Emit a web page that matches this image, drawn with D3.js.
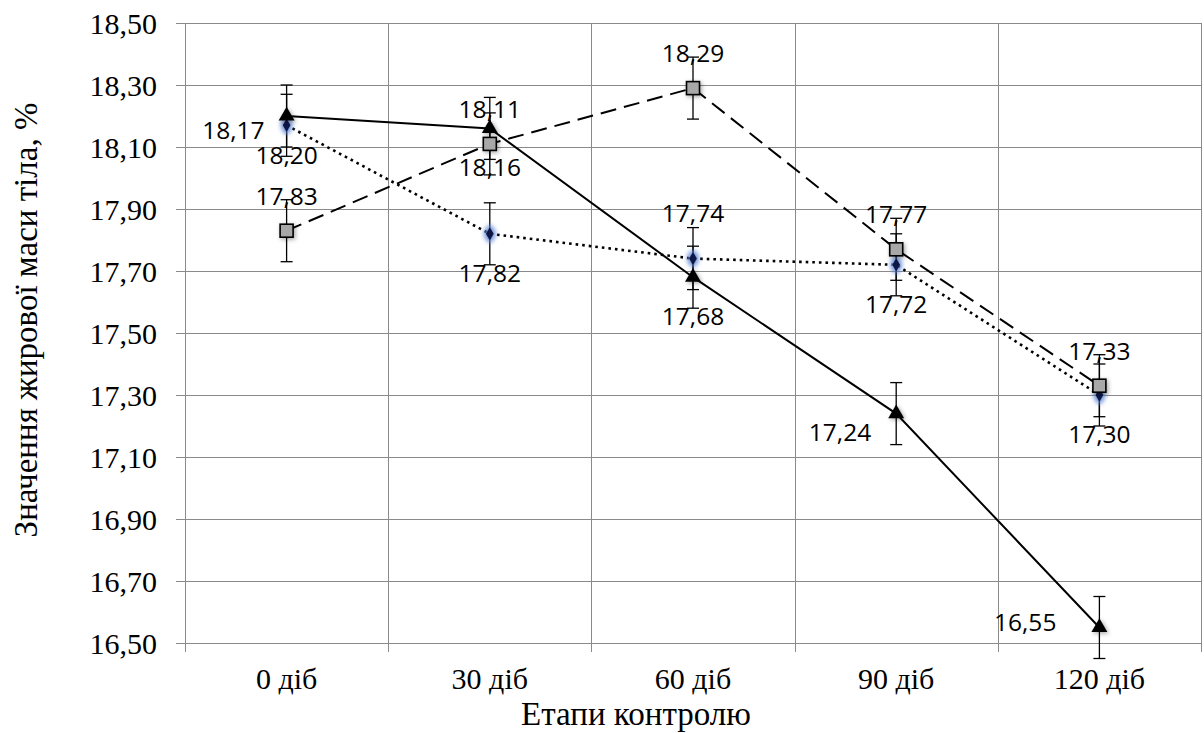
<!DOCTYPE html>
<html>
<head>
<meta charset="utf-8">
<script src="https://cdn.jsdelivr.net/npm/d3@7"></script>
<style>
  html, body { margin: 0; padding: 0; background: #fff; }
  svg { display: block; }
  .serif { font-family: "Liberation Serif", "Tinos", "Noto Serif", "DejaVu Serif", "FreeSerif", "Nimbus Roman", "Times New Roman", Times, serif; }
  .lbl { font-family: "Open Sans", "Noto Sans", sans-serif; }
</style>
</head>
<body>
<svg id="chart" width="1204" height="733"></svg>
<script>
// ---- data ----
const categories = ["0 діб", "30 діб", "60 діб", "90 діб", "120 діб"];
const yTicks = [16.5, 16.7, 16.9, 17.1, 17.3, 17.5, 17.7, 17.9, 18.1, 18.3, 18.5];
const seriesSolid = [18.20, 18.16, 17.68, 17.24, 16.55];   // triangles, solid line
const seriesDashed = [17.83, 18.11, 18.29, 17.77, 17.33];  // squares, dashed line
const seriesDotted = [18.17, 17.82, 17.74, 17.72, 17.30];  // diamonds, dotted line
const errSolid = [0.10, 0.10, 0.10, 0.10, 0.10];
const errDashed = [0.10, 0.10, 0.10, 0.10, 0.10];
const errDotted = [0.10, 0.10, 0.10, 0.10, 0.10];
const yTitle = "Значення жирової маси тіла, %";
const xTitle = "Етапи контролю";

// ---- label placement (style) ----
const placeSolid = [["below"], ["below"], ["below"], ["left", 25, 19], ["left", 43, -5]];
const placeDashed = [["above"], ["above"], ["above"], ["above"], ["above"]];
const placeDotted = [["left", 22, 5], ["below"], ["above", 0, -45], ["below"], ["below"]];

(function () {
const svg = d3.select("#chart");
const pLeft = 185, pRight = 1201, pTop = 23, pBottom = 643;

const x = d3.scaleBand().domain(categories).range([pLeft, pRight]).padding(0);
const y = d3.scaleLinear().domain([16.5, 18.5]).range([pBottom, pTop]);
const cx = c => x(c) + x.bandwidth() / 2;

const defs = svg.append("defs");
const glow = defs.append("filter").attr("id", "glow").attr("x", "-150%").attr("y", "-150%").attr("width", "400%").attr("height", "400%");
glow.append("feMorphology").attr("in", "SourceAlpha").attr("operator", "dilate").attr("radius", 1.5).attr("result", "d");
glow.append("feGaussianBlur").attr("in", "d").attr("stdDeviation", 2.2).attr("result", "b");
glow.append("feFlood").attr("flood-color", "#5f86d6").attr("flood-opacity", 0.85);
glow.append("feComposite").attr("in2", "b").attr("operator", "in").attr("result", "g");
const gm = glow.append("feMerge");
gm.append("feMergeNode").attr("in", "g");
gm.append("feMergeNode").attr("in", "SourceGraphic");

const shadow = defs.append("filter").attr("id", "shadow").attr("x", "-100%").attr("y", "-100%").attr("width", "300%").attr("height", "300%");
shadow.append("feDropShadow").attr("dx", 1.5).attr("dy", 1.5).attr("stdDeviation", 2).attr("flood-color", "#000").attr("flood-opacity", 0.35);

// ---- grid ----
const grid = svg.append("g");
grid.selectAll("line.h").data(yTicks).join("line")
  .attr("x1", pLeft - 9).attr("x2", pRight)
  .attr("y1", d => Math.round(y(d)) + 0.5).attr("y2", d => Math.round(y(d)) + 0.5)
  .attr("stroke", "#8a8a8a").attr("stroke-width", 1);
const bounds = categories.map(c => x(c)).concat([pRight]);
grid.selectAll("line.v").data(bounds).join("line")
  .attr("x1", d => Math.round(d) + 0.5).attr("x2", d => Math.round(d) + 0.5)
  .attr("y1", pTop).attr("y2", pBottom + 9)
  .attr("stroke", "#8a8a8a").attr("stroke-width", 1);

// ---- axes labels via d3 axes ----
const yAxis = d3.axisLeft(y).tickValues(yTicks).tickSize(0).tickPadding(0)
  .tickFormat(d => d3.format(".2f")(d).replace(".", ","));
const gy = svg.append("g").attr("transform", `translate(${pLeft - 28},0)`).call(yAxis);
gy.attr("font-family", null).attr("font-size", null);
gy.select(".domain").remove();
gy.selectAll("text").attr("class", "serif").style("font-size", "30px").attr("fill", "#000").attr("dy", "0.34em");

const xAxis = d3.axisBottom(x).tickSize(0).tickPadding(0);
const gx = svg.append("g").attr("transform", `translate(0,${pBottom + 25})`).call(xAxis);
gx.attr("font-family", null).attr("font-size", null);
gx.select(".domain").remove();
gx.selectAll("text").attr("class", "serif").style("font-size", "30px").attr("fill", "#000").attr("dy", "0.71em");

svg.append("text").attr("class", "serif").attr("x", 636).attr("y", 725)
  .attr("text-anchor", "middle").style("font-size", "33px").attr("fill", "#000").text(xTitle);
svg.append("text").attr("class", "serif").attr("transform", `translate(37,320) rotate(-90)`)
  .attr("text-anchor", "middle").style("font-size", "33px").attr("fill", "#000").text(yTitle);

// ---- series ----
const series = [
  { vals: seriesDotted, err: errDotted, dash: "2.6 4", cap: "butt", width: 2.6, marker: "diamond", place: placeDotted },
  { vals: seriesDashed, err: errDashed, dash: "16 8", cap: "butt", width: 2, marker: "square", place: placeDashed },
  { vals: seriesSolid, err: errSolid, dash: null, cap: "butt", width: 2, marker: "triangle", place: placeSolid },
];

const line = d3.line().x((d, i) => cx(categories[i])).y(d => y(d));

series.forEach(s => {
  svg.append("path").datum(s.vals).attr("d", line)
    .attr("fill", "none").attr("stroke", "#000").attr("stroke-width", s.width)
    .attr("stroke-dasharray", s.dash).attr("stroke-linecap", s.cap);
});

// error bars
series.forEach(s => {
  const g = svg.append("g").attr("stroke", "#000").attr("stroke-width", 1.3);
  s.vals.forEach((v, i) => {
    const px = cx(categories[i]);
    const y1 = y(v + s.err[i]), y2 = y(v - s.err[i]);
    g.append("line").attr("x1", px).attr("x2", px).attr("y1", y1).attr("y2", y2);
    g.append("line").attr("x1", px - 6).attr("x2", px + 6).attr("y1", y1).attr("y2", y1);
    g.append("line").attr("x1", px - 6).attr("x2", px + 6).attr("y1", y2).attr("y2", y2);
  });
});

// markers
series.forEach(s => {
  const g = svg.append("g");
  s.vals.forEach((v, i) => {
    const px = cx(categories[i]), py = y(v);
    if (s.marker === "triangle") {
      g.append("path").attr("d", d3.symbol(d3.symbolTriangle, 110)())
        .attr("transform", `translate(${px},${py})`).attr("fill", "#000").attr("filter", "url(#shadow)");
    } else if (s.marker === "square") {
      g.append("rect").attr("x", px - 6.5).attr("y", py - 6.5).attr("width", 13).attr("height", 13)
        .attr("fill", "#a8a8a8").attr("stroke", "#000").attr("stroke-width", 1.6).attr("filter", "url(#shadow)");
    } else {
      g.append("path").attr("d", d3.symbol(d3.symbolDiamond, 55)())
        .attr("transform", `translate(${px},${py})`).attr("fill", "#0b1845").attr("filter", "url(#glow)");
    }
  });
});

// data labels
const fmt = v => d3.format(".2f")(v).replace(".", ",");
series.forEach(s => {
  const g = svg.append("g").attr("class", "lbl").style("font-size", "24.5px").attr("fill", "#000");
  s.vals.forEach((v, i) => {
    const px = cx(categories[i]), py = y(v);
    const p = s.place[i];
    let tx = px, ty = py, anchor = "middle";
    if (p[0] === "above") { ty = py + (p[2] !== undefined ? p[2] : -35); tx = px + (p[1] || 0); }
    else if (p[0] === "below") { ty = py + 39; }
    else if (p[0] === "left") { tx = px - p[1]; ty = py + p[2]; anchor = "end"; }
    g.append("text").attr("x", tx).attr("y", ty).attr("text-anchor", anchor)
      .attr("dy", "0.36em").text(fmt(v));
  });
});
})();
</script>
</body>
</html>
